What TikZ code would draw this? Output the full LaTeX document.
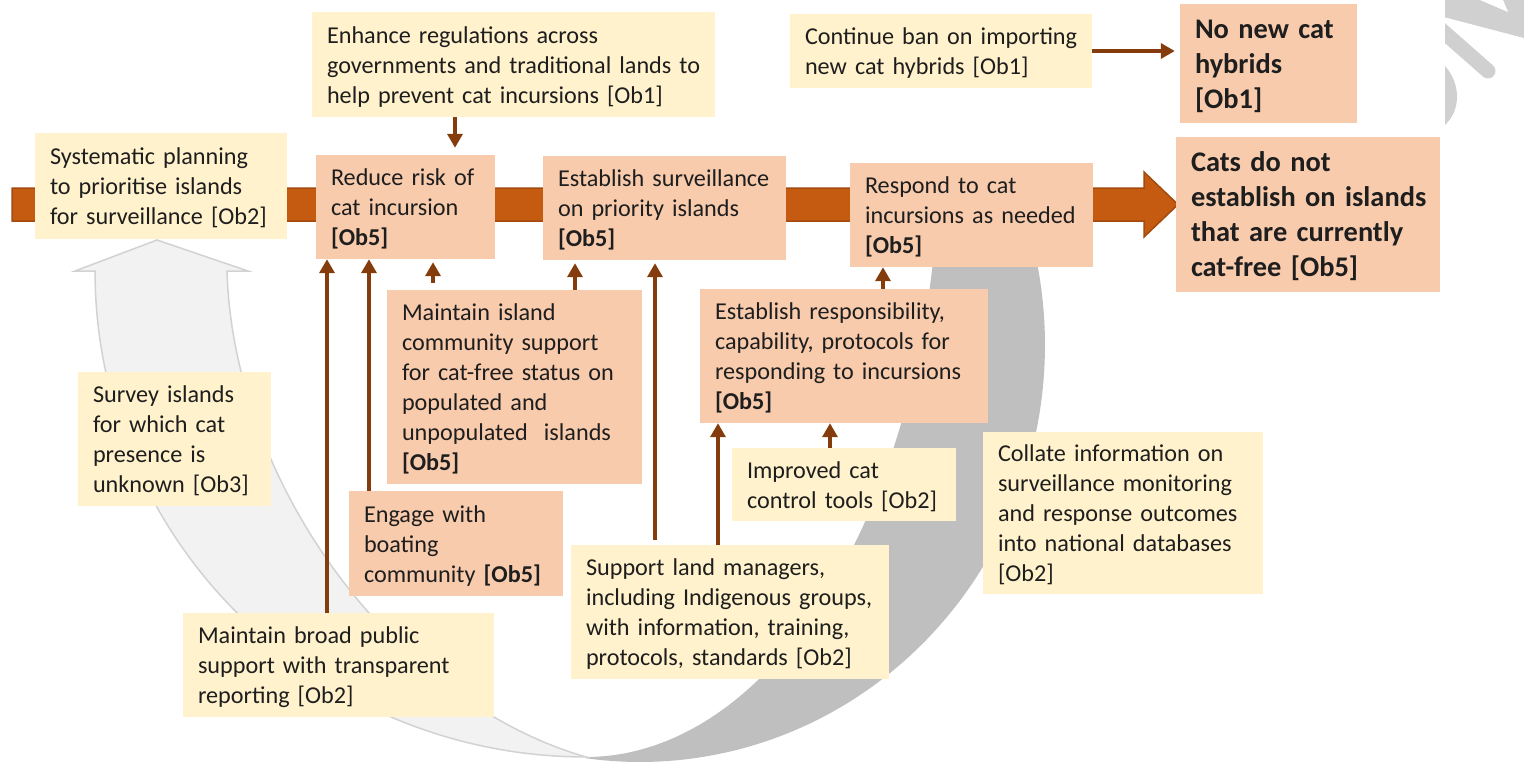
\documentclass[tikz,border=0pt]{standalone}
\usepackage{fontspec}
\setmainfont{Carlito}
\usetikzlibrary{arrows.meta}

\definecolor{note}{HTML}{FFF2CC}
\definecolor{goal}{HTML}{F8CBAD}
\definecolor{flow}{HTML}{C55A11}
\definecolor{flowedge}{HTML}{A34A0E}
\definecolor{link}{HTML}{843C0C}
\definecolor{loopfront}{HTML}{F2F2F2}
\definecolor{loopedge}{HTML}{D2D2D2}
\definecolor{loopback}{HTML}{BFBFBF}
\definecolor{ink}{HTML}{1E1E1E}
\definecolor{markgray}{HTML}{D0D0D0}

% \card[text style]{name}{fill style}{x1}{y1}{x2}{y2}{text}
\newcommand\card[8][]{%
  \node[#3, minimum width={#6-#4}, minimum height={#7-#5}]
       (#2) at ({(#4+#6)/2},{(#5+#7)/2}) {};
  \node[card text,#1] at ([xshift=15pt,yshift=-2.5pt]#2.west) {\strut#8\strut};}

\tikzset{
  notebox/.style={fill=note, draw=none, inner sep=0pt},
  goalbox/.style={fill=goal, draw=none, inner sep=0pt},
  card text/.style={anchor=west, inner sep=0pt, align=left, text width=420pt,
    text=ink, font=\fontsize{24.2}{30}\selectfont},
  card bold/.style={font=\fontsize{28.4}{35}\selectfont\bfseries},
  link arrow/.style={draw=link, line width=4pt,
    -{Triangle[width=15pt,length=14pt]}},
}

\begin{document}
\begin{tikzpicture}[x=1pt,y=-1pt]
\useasboundingbox (0,0) rectangle (1524,763);

% curved return arrow: shaded back part
\fill[loopback]
  plot[domain=-14.6:97.7, samples=80] ({640+405*cos(\x)},{345+417*sin(\x)})
  -- plot[domain=90:8.5, samples=80] ({586+353*cos(\x)},{150+607*sin(\x)})
  -- cycle;
% curved return arrow: front band with upward head
\filldraw[fill=loopfront, draw=loopedge, line width=1.5pt, line join=miter]
  (95,271) -- (75,271) -- (157,240) -- (248,271) -- (227,271)
  .. controls (233,480) and (390,700) .. (586,757)
  -- plot[domain=90:180, samples=80] ({586+491*cos(\x)},{271+486*sin(\x)})
  -- cycle;

% watermark fragment at the top right
\begin{scope}
  \clip (1445,0) rectangle (1524,130);
  \fill[markgray] (1440,0) -- (1524,0) -- (1524,38) -- (1440,16) -- cycle;
  \fill[white] (1480,0) -- (1503,0) -- (1508,12) -- cycle;
  \draw[markgray, line width=15pt, line cap=round] (1430,20) -- (1488,71);
  \fill[markgray] (1445,66) .. controls (1461,84) and (1461,110) .. (1445,125) -- cycle;
\end{scope}

% main pathway arrow
\filldraw[fill=flow, draw=flowedge, line width=1.5pt, line join=miter]
  (12,188) -- (1144,188) -- (1144,172) -- (1178,204.5) -- (1144,237)
  -- (1144,221) -- (12,221) -- cycle;

% boxes
\card{enh}{notebox}{312}{12}{715}{117}{Enhance regulations across\\governments and traditional lands to\\help prevent cat incursions [Ob1]}
\card{ban}{notebox}{790}{14}{1092}{88}{Continue ban on importing\\new cat hybrids [Ob1]}
\card[card bold]{nonew}{goalbox}{1180}{4}{1357}{123}{No new cat\\hybrids\\{}[Ob1]}
\card{plan}{notebox}{35}{133}{287}{239}{Systematic planning\\to prioritise islands\\for surveillance [Ob2]}
\card{reduce}{goalbox}{316}{155}{495}{259}{Reduce risk of\\cat incursion\\\textbf{[Ob5]}}
\card{surv}{goalbox}{543}{156}{786}{260}{Establish surveillance\\on priority islands\\\textbf{[Ob5]}}
\card{respond}{goalbox}{850}{163}{1093}{267}{Respond to cat\\incursions as needed\\\textbf{[Ob5]}}
\card[card bold]{outcome}{goalbox}{1176}{137}{1440}{292}{Cats do not\\establish on islands\\that are currently\\cat-free [Ob5]}
\card{island}{goalbox}{387}{290}{642}{484}{Maintain island\\community support\\for cat-free status on\\populated and\\unpopulated~ islands\\\textbf{[Ob5]}}
\card{boating}{goalbox}{349}{491}{563}{596}{Engage with\\boating\\community \textbf{[Ob5]}}
\card{resp}{goalbox}{700}{289}{988}{423}{Establish responsibility,\\capability, protocols for\\responding to incursions\\\textbf{[Ob5]}}
\card{tools}{notebox}{732}{448}{956}{521}{Improved cat\\control tools [Ob2]}
\card{collate}{notebox}{983}{432}{1263}{594}{Collate information on\\surveillance monitoring\\and response outcomes\\into national databases\\{}[Ob2]}
\card{survey}{notebox}{78}{372}{271}{506}{Survey islands\\for which cat\\presence is\\unknown [Ob3]}
\card{public}{notebox}{183}{613}{494}{717}{Maintain broad public\\support with transparent\\reporting [Ob2]}
\card{landmgr}{notebox}{571}{545}{889}{679}{Support land managers,\\including Indigenous groups,\\with information, training,\\protocols, standards [Ob2]}

% connector positions
\coordinate (xa) at (455,0);
\coordinate (yb) at (0,51);
\coordinate (xc) at (327,0);
\coordinate (xd) at (369,0);
\coordinate (xe) at (433,0);
\coordinate (xf) at (575,0);
\coordinate (xg) at (655,0);
\coordinate (xh) at (718,0);
\coordinate (xi) at (830,0);
\coordinate (xj) at (883,0);

% connectors
\draw[link arrow, shorten >=7pt] (enh.south -| xa) -- (reduce.north -| xa);
\draw[link arrow, shorten >=5pt] (ban.east |- yb) -- (nonew.west |- yb);
\draw[link arrow] (public.north -| xc) -- (reduce.south -| xc);
\draw[link arrow] (boating.north -| xd) -- (reduce.south -| xd);
\draw[link arrow, shorten <=7pt, shorten >=3pt] (island.north -| xe) -- (reduce.south -| xe);
\draw[link arrow, shorten >=3pt] (island.north -| xf) -- (surv.south -| xf);
\draw[link arrow, shorten <=5pt, shorten >=3pt] (landmgr.north -| xg) -- (surv.south -| xg);
\draw[link arrow] (landmgr.north -| xh) -- (resp.south -| xh);
\draw[link arrow] (tools.north -| xi) -- (resp.south -| xi);
\draw[link arrow] (resp.north -| xj) -- (respond.south -| xj);
\end{tikzpicture}
\end{document}
